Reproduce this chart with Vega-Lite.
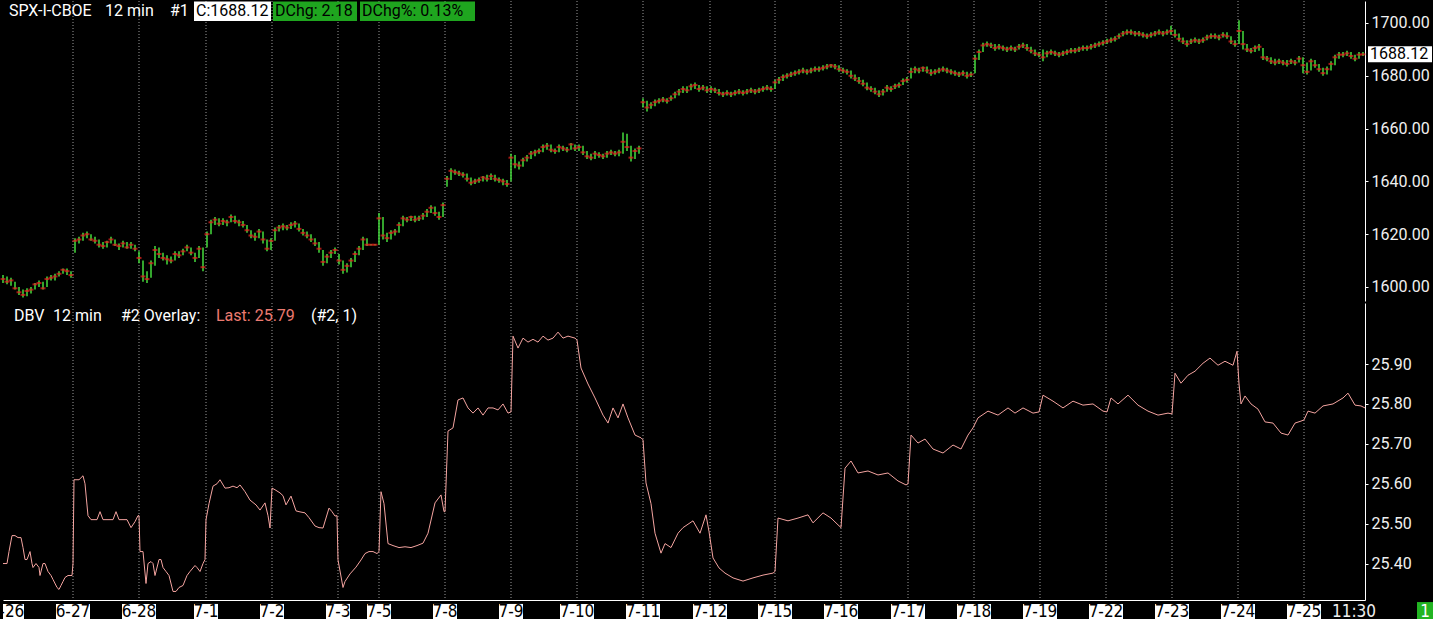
{
"$schema": "https://vega.github.io/schema/vega-lite/v6.json",
"background": "#000000",
"padding": 0,
"spacing": 0,
"config": {"view": {"stroke": null}, "text": {"font": "Roboto"}, "axis": {"labelFont": "Roboto"}},
"datasets": {
"days": [
{"t":2,"label":"6-26"},{"t":35,"label":"6-27"},{"t":68,"label":"6-28"},{"t":101.5,"label":"7-1"},{"t":134.5,"label":"7-2"},{"t":167.5,"label":"7-3"},{"t":188,"label":"7-5"},{"t":221,"label":"7-8"},{"t":254,"label":"7-9"},{"t":287,"label":"7-10"},{"t":320,"label":"7-11"},{"t":353.5,"label":"7-12"},{"t":386,"label":"7-15"},{"t":419,"label":"7-16"},{"t":452.5,"label":"7-17"},{"t":485.5,"label":"7-18"},{"t":518.5,"label":"7-19"},{"t":551.5,"label":"7-22"},{"t":584.5,"label":"7-23"},{"t":617.5,"label":"7-24"},{"t":650.5,"label":"7-25"},{"t":675.5,"label":"11:30"}
],
"spx": [
{"t":0,"h":1604.5,"l":1601.5,"c":1603},{"t":2,"h":1604,"l":1601,"c":1602},{"t":4,"h":1603.5,"l":1600.5,"c":1602.5},{"t":6,"h":1602,"l":1599,"c":1599.5},{"t":8,"h":1600,"l":1597,"c":1598},{"t":10,"h":1599,"l":1596,"c":1597},{"t":12,"h":1599.5,"l":1596.5,"c":1598.5},{"t":14,"h":1600,"l":1597.5,"c":1599},{"t":16,"h":1601.5,"l":1599,"c":1601},{"t":18,"h":1602.5,"l":1600,"c":1601.5},{"t":20,"h":1602,"l":1599,"c":1599.5},{"t":22,"h":1604,"l":1600,"c":1603},{"t":24,"h":1604.5,"l":1602.5,"c":1603.5},{"t":26,"h":1605,"l":1602.5,"c":1604},{"t":28,"h":1606,"l":1604,"c":1605},{"t":30,"h":1607,"l":1605,"c":1606.5},{"t":32,"h":1607,"l":1604.5,"c":1606},{"t":34,"h":1606,"l":1603.5,"c":1604.5},
{"t":36,"h":1618.5,"l":1613,"c":1617.5},{"t":38,"h":1619,"l":1616.5,"c":1618},{"t":40,"h":1620.5,"l":1617.5,"c":1619.5},{"t":42,"h":1621,"l":1618.5,"c":1620},{"t":44,"h":1620,"l":1617.5,"c":1618},{"t":46,"h":1619,"l":1616.5,"c":1617.5},{"t":48,"h":1618,"l":1615,"c":1616},{"t":50,"h":1617,"l":1614.5,"c":1615.5},{"t":52,"h":1617.5,"l":1615,"c":1617},{"t":54,"h":1619,"l":1616.5,"c":1618},{"t":56,"h":1618,"l":1615.5,"c":1616},{"t":58,"h":1616.5,"l":1614,"c":1615.5},{"t":60,"h":1617.5,"l":1615,"c":1616.5},{"t":62,"h":1617,"l":1614.5,"c":1615},{"t":64,"h":1617,"l":1614.5,"c":1616},{"t":66,"h":1616,"l":1613.5,"c":1614.5},
{"t":68,"h":1613.5,"l":1609,"c":1611},{"t":70,"h":1610,"l":1602,"c":1604},{"t":72,"h":1606,"l":1601.5,"c":1603},{"t":74,"h":1610,"l":1603.5,"c":1609},{"t":76,"h":1615.5,"l":1608,"c":1614},{"t":78,"h":1615,"l":1611,"c":1612.5},{"t":80,"h":1613,"l":1610,"c":1611},{"t":82,"h":1612,"l":1608.5,"c":1610.5},{"t":84,"h":1611.5,"l":1609,"c":1610},{"t":86,"h":1613.5,"l":1610,"c":1612.5},{"t":88,"h":1613.5,"l":1611,"c":1612},{"t":90,"h":1614.5,"l":1612,"c":1613.5},{"t":92,"h":1616,"l":1613.5,"c":1615},{"t":94,"h":1615,"l":1612,"c":1613},{"t":96,"h":1613,"l":1609.5,"c":1611},{"t":98,"h":1615.5,"l":1611,"c":1614.5},{"t":100,"h":1615,"l":1606,"c":1607.5},
{"t":102,"h":1621,"l":1615,"c":1620},{"t":104,"h":1625.5,"l":1620,"c":1624.5},{"t":106,"h":1626.5,"l":1623.5,"c":1625.5},{"t":108,"h":1626,"l":1623,"c":1624},{"t":110,"h":1626,"l":1623.5,"c":1625},{"t":112,"h":1625.5,"l":1623,"c":1624.5},{"t":114,"h":1627.5,"l":1624.5,"c":1626.5},{"t":116,"h":1627,"l":1624,"c":1625},{"t":118,"h":1625.5,"l":1623,"c":1624.5},{"t":120,"h":1625,"l":1622.5,"c":1623.5},{"t":122,"h":1623.5,"l":1620.5,"c":1621.5},{"t":124,"h":1621.5,"l":1618.5,"c":1619.5},{"t":126,"h":1620.5,"l":1617.5,"c":1619},{"t":128,"h":1622,"l":1618.5,"c":1621},{"t":130,"h":1621,"l":1616.5,"c":1618},{"t":132,"h":1618,"l":1613.5,"c":1614.5},{"t":134,"h":1618.5,"l":1614,"c":1617.5},
{"t":136,"h":1622.5,"l":1617.5,"c":1621.5},{"t":138,"h":1623.5,"l":1621,"c":1622.5},{"t":140,"h":1624,"l":1621.5,"c":1623},{"t":142,"h":1623.5,"l":1621.5,"c":1622.5},{"t":144,"h":1624.5,"l":1622,"c":1623.5},{"t":146,"h":1625,"l":1622.5,"c":1624},{"t":148,"h":1624,"l":1621,"c":1622},{"t":150,"h":1622,"l":1619.5,"c":1620.5},{"t":152,"h":1621,"l":1618.5,"c":1619.5},{"t":154,"h":1620,"l":1617,"c":1618},{"t":156,"h":1618.5,"l":1615.5,"c":1616.5},{"t":158,"h":1617,"l":1613,"c":1614.5},{"t":160,"h":1614,"l":1608,"c":1609.5},{"t":162,"h":1612.5,"l":1609,"c":1611.5},{"t":164,"h":1614,"l":1611,"c":1613},{"t":166,"h":1615,"l":1612.5,"c":1614},
{"t":168,"h":1612.5,"l":1608.5,"c":1610},{"t":170,"h":1610,"l":1605,"c":1606.5},{"t":172,"h":1609,"l":1605.5,"c":1608},{"t":174,"h":1611,"l":1607.5,"c":1610},{"t":176,"h":1613.5,"l":1609.5,"c":1612.5},{"t":178,"h":1615.5,"l":1612,"c":1614.5},{"t":180,"h":1619,"l":1614,"c":1618},{"t":182,"h":1618.5,"l":1615.5,"c":1616},{"t":184,"h":1616.3,"l":1615.7,"c":1616},{"t":186,"h":1616.3,"l":1615.7,"c":1616},
{"t":188,"h":1628,"l":1616,"c":1626},{"t":190,"h":1626.5,"l":1618,"c":1619.5},{"t":192,"h":1620.5,"l":1617,"c":1618.5},{"t":194,"h":1621.5,"l":1618,"c":1620.5},{"t":196,"h":1622,"l":1619.5,"c":1621},{"t":198,"h":1624.5,"l":1620.5,"c":1623.5},{"t":200,"h":1627,"l":1623,"c":1626},{"t":202,"h":1626.5,"l":1624.5,"c":1625.5},{"t":204,"h":1627,"l":1625,"c":1626.5},{"t":206,"h":1627,"l":1624.5,"c":1625.5},{"t":208,"h":1627,"l":1625,"c":1626},{"t":210,"h":1628,"l":1625.5,"c":1627},{"t":212,"h":1629.5,"l":1626.5,"c":1628.5},{"t":214,"h":1631,"l":1628,"c":1630},{"t":216,"h":1630.5,"l":1627,"c":1628},{"t":218,"h":1628.5,"l":1625.5,"c":1626.5},{"t":220,"h":1632,"l":1626.5,"c":1631},
{"t":222,"h":1642,"l":1638,"c":1641},{"t":224,"h":1645,"l":1640.5,"c":1644},{"t":226,"h":1644.5,"l":1642.5,"c":1643.5},{"t":228,"h":1644,"l":1642,"c":1643},{"t":230,"h":1643.5,"l":1641.5,"c":1642.5},{"t":232,"h":1643,"l":1640,"c":1641},{"t":234,"h":1641.5,"l":1638.5,"c":1639.5},{"t":236,"h":1641,"l":1639,"c":1640},{"t":238,"h":1641.5,"l":1639.5,"c":1640.5},{"t":240,"h":1642,"l":1640,"c":1641.5},{"t":242,"h":1642.5,"l":1640,"c":1641},{"t":244,"h":1643,"l":1640.5,"c":1642},{"t":246,"h":1642.5,"l":1640,"c":1641},{"t":248,"h":1641.5,"l":1639.5,"c":1640.5},{"t":250,"h":1641,"l":1638.5,"c":1640},{"t":252,"h":1640.5,"l":1638,"c":1639},
{"t":254,"h":1650.5,"l":1640,"c":1649},{"t":256,"h":1650,"l":1645,"c":1646.5},{"t":258,"h":1647.5,"l":1644.5,"c":1646},{"t":260,"h":1649,"l":1645.5,"c":1648},{"t":262,"h":1650,"l":1647.5,"c":1649},{"t":264,"h":1651.5,"l":1648.5,"c":1650.5},{"t":266,"h":1652,"l":1649.5,"c":1651},{"t":268,"h":1652.5,"l":1650.5,"c":1651.5},{"t":270,"h":1654,"l":1651,"c":1653},{"t":272,"h":1654.5,"l":1652,"c":1653.5},{"t":274,"h":1654,"l":1651,"c":1652},{"t":276,"h":1652.5,"l":1650.5,"c":1651.5},{"t":278,"h":1654,"l":1651,"c":1653},{"t":280,"h":1653.5,"l":1651.5,"c":1652.5},{"t":282,"h":1653,"l":1651,"c":1652},{"t":284,"h":1654.5,"l":1652,"c":1654},{"t":286,"h":1654,"l":1651.5,"c":1652.5},
{"t":288,"h":1654,"l":1651.5,"c":1653},{"t":290,"h":1653.5,"l":1650,"c":1651},{"t":292,"h":1651.5,"l":1648.5,"c":1649.5},{"t":294,"h":1650.5,"l":1648,"c":1649},{"t":296,"h":1651.5,"l":1648.5,"c":1650.5},{"t":298,"h":1651,"l":1649,"c":1650},{"t":300,"h":1650.5,"l":1648.5,"c":1649.5},{"t":302,"h":1651.5,"l":1649,"c":1650.5},{"t":304,"h":1652,"l":1650,"c":1651},{"t":306,"h":1651.5,"l":1649.5,"c":1650.5},{"t":308,"h":1652,"l":1649.5,"c":1651},{"t":310,"h":1658.5,"l":1650.5,"c":1655},{"t":312,"h":1658,"l":1651.5,"c":1653},{"t":314,"h":1653.5,"l":1647.5,"c":1649},{"t":316,"h":1652.5,"l":1648.5,"c":1651.5},{"t":318,"h":1653.5,"l":1650.5,"c":1652.5},
{"t":320,"h":1671.5,"l":1668,"c":1670},{"t":322,"h":1670.5,"l":1666.5,"c":1668},{"t":324,"h":1670,"l":1667.5,"c":1669},{"t":326,"h":1671,"l":1668.5,"c":1670},{"t":328,"h":1671.5,"l":1669.5,"c":1670.5},{"t":330,"h":1672,"l":1670,"c":1671},{"t":332,"h":1671.5,"l":1669.5,"c":1670.5},{"t":334,"h":1672.5,"l":1670.5,"c":1671.5},{"t":336,"h":1674,"l":1671.5,"c":1673},{"t":338,"h":1675,"l":1672.5,"c":1674},{"t":340,"h":1676,"l":1673.5,"c":1675},{"t":342,"h":1676,"l":1673.5,"c":1674.5},{"t":344,"h":1677,"l":1674.5,"c":1676},{"t":346,"h":1677.5,"l":1675,"c":1676.5},{"t":348,"h":1676.5,"l":1674,"c":1675},{"t":350,"h":1676.5,"l":1674.5,"c":1675.5},{"t":352,"h":1676,"l":1673.5,"c":1674.5},
{"t":354,"h":1676,"l":1673.5,"c":1675},{"t":356,"h":1675.5,"l":1673.5,"c":1674.5},{"t":358,"h":1675,"l":1672.5,"c":1673.5},{"t":360,"h":1674,"l":1672,"c":1673},{"t":362,"h":1674.5,"l":1672.5,"c":1673.5},{"t":364,"h":1674,"l":1672,"c":1673},{"t":366,"h":1674.5,"l":1672.5,"c":1673.5},{"t":368,"h":1675,"l":1673,"c":1674},{"t":370,"h":1674.5,"l":1672.5,"c":1673.5},{"t":372,"h":1675,"l":1673,"c":1674},{"t":374,"h":1675.5,"l":1673.5,"c":1674.5},{"t":376,"h":1675,"l":1673,"c":1674},{"t":378,"h":1675.5,"l":1673.5,"c":1674.5},{"t":380,"h":1676,"l":1674,"c":1675},{"t":382,"h":1676.5,"l":1674.5,"c":1675.5},{"t":384,"h":1676,"l":1674,"c":1675},
{"t":386,"h":1678.5,"l":1675,"c":1677.5},{"t":388,"h":1679.5,"l":1677,"c":1678.5},{"t":390,"h":1680.5,"l":1678,"c":1679.5},{"t":392,"h":1681,"l":1679,"c":1680},{"t":394,"h":1681.5,"l":1679.5,"c":1680.5},{"t":396,"h":1682,"l":1680,"c":1681},{"t":398,"h":1682.5,"l":1680.5,"c":1681.5},{"t":400,"h":1683,"l":1681,"c":1682},{"t":402,"h":1682.5,"l":1680.5,"c":1681.5},{"t":404,"h":1683,"l":1681,"c":1682},{"t":406,"h":1683.5,"l":1681.5,"c":1682.5},{"t":408,"h":1683.5,"l":1681.5,"c":1682.5},{"t":410,"h":1684,"l":1682,"c":1683},{"t":412,"h":1684.5,"l":1682.5,"c":1683.5},{"t":414,"h":1684.5,"l":1683,"c":1684},{"t":416,"h":1684.5,"l":1682.5,"c":1683.5},{"t":418,"h":1684,"l":1681.5,"c":1682.5},
{"t":420,"h":1683,"l":1681,"c":1682},{"t":422,"h":1682.5,"l":1680.5,"c":1681.5},{"t":424,"h":1682,"l":1679,"c":1680},{"t":426,"h":1680.5,"l":1678,"c":1679},{"t":428,"h":1679.5,"l":1677,"c":1678},{"t":430,"h":1678.5,"l":1676,"c":1677},{"t":432,"h":1677.5,"l":1674.5,"c":1675.5},{"t":434,"h":1676,"l":1674,"c":1675},{"t":436,"h":1675.5,"l":1673,"c":1674},{"t":438,"h":1674.5,"l":1672,"c":1673},{"t":440,"h":1675,"l":1672.5,"c":1674},{"t":442,"h":1676.5,"l":1674,"c":1675.5},{"t":444,"h":1676,"l":1674,"c":1675},{"t":446,"h":1677,"l":1675,"c":1676},{"t":448,"h":1677.5,"l":1675.5,"c":1676.5},{"t":450,"h":1679,"l":1676.5,"c":1678},{"t":452,"h":1679.5,"l":1677.5,"c":1678.5},
{"t":454,"h":1683,"l":1679,"c":1681.5},{"t":456,"h":1683.5,"l":1681,"c":1682.5},{"t":458,"h":1683,"l":1681,"c":1682},{"t":460,"h":1683.5,"l":1681.5,"c":1683},{"t":462,"h":1683.5,"l":1681,"c":1682},{"t":464,"h":1682.5,"l":1680,"c":1681},{"t":466,"h":1682.5,"l":1680.5,"c":1681.5},{"t":468,"h":1683,"l":1681,"c":1682},{"t":470,"h":1683.5,"l":1681.5,"c":1682.5},{"t":472,"h":1683,"l":1681,"c":1682},{"t":474,"h":1682.5,"l":1680.5,"c":1681.5},{"t":476,"h":1682,"l":1680,"c":1681},{"t":478,"h":1681.5,"l":1679.5,"c":1680.5},{"t":480,"h":1682,"l":1680,"c":1681},{"t":482,"h":1681.5,"l":1679,"c":1680},{"t":484,"h":1681.5,"l":1679.5,"c":1680.5},
{"t":486,"h":1688,"l":1681,"c":1686.5},{"t":488,"h":1690,"l":1686,"c":1689},{"t":490,"h":1692.5,"l":1689,"c":1691.5},{"t":492,"h":1693,"l":1691,"c":1692},{"t":494,"h":1692.5,"l":1690.5,"c":1691.5},{"t":496,"h":1692,"l":1689.5,"c":1690.5},{"t":498,"h":1692,"l":1690,"c":1691},{"t":500,"h":1691.5,"l":1689.5,"c":1690.5},{"t":502,"h":1691,"l":1689,"c":1690},{"t":504,"h":1691.5,"l":1689.5,"c":1690.5},{"t":506,"h":1691,"l":1689,"c":1690},{"t":508,"h":1692,"l":1690,"c":1691},{"t":510,"h":1692.5,"l":1690.5,"c":1691.5},{"t":512,"h":1692,"l":1689.5,"c":1690.5},{"t":514,"h":1691,"l":1688.5,"c":1689.5},{"t":516,"h":1690,"l":1687.5,"c":1688.5},
{"t":518,"h":1689,"l":1687,"c":1688},{"t":520,"h":1690,"l":1685.5,"c":1687},{"t":522,"h":1689.5,"l":1687,"c":1688.5},{"t":524,"h":1690,"l":1688,"c":1689},{"t":526,"h":1689.5,"l":1687.5,"c":1688.5},{"t":528,"h":1689,"l":1687,"c":1688},{"t":530,"h":1689.5,"l":1687.5,"c":1688.5},{"t":532,"h":1690,"l":1688,"c":1689},{"t":534,"h":1690.5,"l":1688.5,"c":1689.5},{"t":536,"h":1690.5,"l":1688.5,"c":1689.5},{"t":538,"h":1691,"l":1689,"c":1690},{"t":540,"h":1691.5,"l":1689.5,"c":1690.5},{"t":542,"h":1691.5,"l":1689.5,"c":1690.5},{"t":544,"h":1692,"l":1690,"c":1691},{"t":546,"h":1692.5,"l":1690.5,"c":1691.5},{"t":548,"h":1693,"l":1691,"c":1692},{"t":550,"h":1693.5,"l":1691.5,"c":1692.5},
{"t":552,"h":1694,"l":1692,"c":1693},{"t":554,"h":1694.5,"l":1692.5,"c":1693.5},{"t":556,"h":1695,"l":1693,"c":1694},{"t":558,"h":1696,"l":1694,"c":1695},{"t":560,"h":1697,"l":1695,"c":1696},{"t":562,"h":1697.5,"l":1695.5,"c":1696.5},{"t":564,"h":1697.5,"l":1695.5,"c":1696.5},{"t":566,"h":1697,"l":1695,"c":1696},{"t":568,"h":1697,"l":1695,"c":1696},{"t":570,"h":1696.5,"l":1694.5,"c":1695.5},{"t":572,"h":1696,"l":1694,"c":1695},{"t":574,"h":1696.5,"l":1694.5,"c":1695.5},{"t":576,"h":1697,"l":1695,"c":1696},{"t":578,"h":1697.5,"l":1695.5,"c":1696.5},{"t":580,"h":1697,"l":1695,"c":1696},{"t":582,"h":1697.5,"l":1695.5,"c":1696.5},
{"t":584,"h":1699,"l":1695.5,"c":1697},{"t":586,"h":1697.5,"l":1694.5,"c":1695.5},{"t":588,"h":1696,"l":1693,"c":1694},{"t":590,"h":1694.5,"l":1692,"c":1693},{"t":592,"h":1693.5,"l":1691,"c":1692},{"t":594,"h":1694,"l":1692,"c":1693},{"t":596,"h":1694.5,"l":1692.5,"c":1693.5},{"t":598,"h":1694,"l":1692,"c":1693},{"t":600,"h":1694.5,"l":1692.5,"c":1693.5},{"t":602,"h":1695.5,"l":1693.5,"c":1694.5},{"t":604,"h":1696,"l":1694,"c":1695},{"t":606,"h":1696,"l":1694,"c":1695},{"t":608,"h":1695.5,"l":1693.5,"c":1694.5},{"t":610,"h":1696.5,"l":1694.5,"c":1695.5},{"t":612,"h":1696.5,"l":1694,"c":1695},{"t":614,"h":1695,"l":1692,"c":1693},{"t":616,"h":1693.5,"l":1691,"c":1692},
{"t":618,"h":1701,"l":1692,"c":1697},{"t":620,"h":1697,"l":1690,"c":1692},{"t":622,"h":1692,"l":1689,"c":1690},{"t":624,"h":1690.5,"l":1688.5,"c":1689.5},{"t":626,"h":1691.5,"l":1689,"c":1690.5},{"t":628,"h":1692,"l":1689.5,"c":1691},{"t":630,"h":1690.5,"l":1686,"c":1687},{"t":632,"h":1687.5,"l":1685.5,"c":1686.5},{"t":634,"h":1687,"l":1684.5,"c":1685.5},{"t":636,"h":1686.5,"l":1684,"c":1685},{"t":638,"h":1686.5,"l":1684.5,"c":1685.5},{"t":640,"h":1686,"l":1684,"c":1685},{"t":642,"h":1686,"l":1683.5,"c":1684.5},{"t":644,"h":1686.5,"l":1684.5,"c":1685.5},{"t":646,"h":1686,"l":1684,"c":1685},{"t":648,"h":1687.5,"l":1685,"c":1686.5},
{"t":650,"h":1687,"l":1681,"c":1684},{"t":652,"h":1685,"l":1680.5,"c":1681.5},{"t":654,"h":1686.5,"l":1682,"c":1685.5},{"t":656,"h":1686,"l":1683,"c":1684},{"t":658,"h":1684.5,"l":1681.5,"c":1682.5},{"t":660,"h":1683,"l":1680,"c":1681},{"t":662,"h":1683.5,"l":1680.5,"c":1682.5},{"t":664,"h":1685.5,"l":1682,"c":1684.5},{"t":666,"h":1688,"l":1684,"c":1687},{"t":668,"h":1689,"l":1686.5,"c":1688},{"t":670,"h":1689,"l":1687,"c":1688},{"t":672,"h":1689.5,"l":1687.5,"c":1688.5},{"t":674,"h":1689,"l":1686.5,"c":1687.5},{"t":676,"h":1688,"l":1685.5,"c":1686.5},{"t":678,"h":1689,"l":1686.5,"c":1688},{"t":680,"h":1689,"l":1687.5,"c":1688.12}
],
"dbv": [
{"t":0,"v":25.4},{"t":2,"v":25.4},{"t":3,"v":25.43},{"t":4.5,"v":25.47},{"t":6,"v":25.47},{"t":7.5,"v":25.465},{"t":9,"v":25.465},{"t":10,"v":25.44},{"t":11,"v":25.41},{"t":12,"v":25.41},{"t":13.5,"v":25.43},{"t":14.5,"v":25.4},{"t":15,"v":25.39},{"t":16.5,"v":25.4},{"t":18,"v":25.39},{"t":18.5,"v":25.37},{"t":20,"v":25.4},{"t":21,"v":25.4},{"t":22.5,"v":25.38},{"t":24,"v":25.37},{"t":25,"v":25.36},{"t":27,"v":25.34},{"t":28,"v":25.335},{"t":29,"v":25.345},{"t":30,"v":25.355},{"t":31,"v":25.365},{"t":32.5,"v":25.37},{"t":34.5,"v":25.37},{"t":35,"v":25.4},
{"t":35.5,"v":25.61},{"t":38,"v":25.61},{"t":40,"v":25.62},{"t":41,"v":25.6},{"t":42.5,"v":25.52},{"t":44,"v":25.51},{"t":46,"v":25.51},{"t":47,"v":25.51},{"t":48.5,"v":25.53},{"t":50,"v":25.51},{"t":53,"v":25.51},{"t":55,"v":25.51},{"t":56.5,"v":25.53},{"t":58,"v":25.51},{"t":61,"v":25.51},{"t":62,"v":25.51},{"t":64,"v":25.49},{"t":66,"v":25.505},{"t":67.5,"v":25.52},{"t":68,"v":25.52},
{"t":68.5,"v":25.43},{"t":70,"v":25.43},{"t":71.5,"v":25.35},{"t":72.5,"v":25.4},{"t":74,"v":25.405},{"t":75,"v":25.4},{"t":76,"v":25.37},{"t":78,"v":25.41},{"t":79,"v":25.41},{"t":80,"v":25.39},{"t":81.5,"v":25.38},{"t":83,"v":25.37},{"t":85,"v":25.33},{"t":86.5,"v":25.33},{"t":88,"v":25.34},{"t":90,"v":25.345},{"t":92,"v":25.37},{"t":93.5,"v":25.38},{"t":96,"v":25.395},{"t":97,"v":25.39},{"t":98.5,"v":25.38},{"t":100,"v":25.4},{"t":101,"v":25.41},
{"t":101.5,"v":25.51},{"t":103,"v":25.55},{"t":105,"v":25.594},{"t":107,"v":25.6},{"t":108.5,"v":25.61},{"t":111,"v":25.589},{"t":113,"v":25.59},{"t":115,"v":25.594},{"t":117,"v":25.59},{"t":118.5,"v":25.597},{"t":121,"v":25.58},{"t":123.5,"v":25.559},{"t":126.5,"v":25.547},{"t":128.5,"v":25.534},{"t":131,"v":25.552},{"t":132.5,"v":25.52},{"t":133.5,"v":25.489},
{"t":134.5,"v":25.589},{"t":136,"v":25.585},{"t":138.5,"v":25.577},{"t":140,"v":25.57},{"t":141.5,"v":25.547},{"t":144,"v":25.569},{"t":146.5,"v":25.532},{"t":148,"v":25.53},{"t":151,"v":25.527},{"t":153,"v":25.515},{"t":156,"v":25.494},{"t":158,"v":25.49},{"t":160,"v":25.489},{"t":163,"v":25.539},{"t":164.5,"v":25.53},{"t":166,"v":25.519},{"t":167,"v":25.52},
{"t":167.5,"v":25.409},{"t":170,"v":25.34},{"t":171,"v":25.355},{"t":173.5,"v":25.374},{"t":176.5,"v":25.391},{"t":179,"v":25.409},{"t":181,"v":25.425},{"t":183,"v":25.43},{"t":185,"v":25.43},{"t":187,"v":25.425},{"t":188,"v":25.43},
{"t":189,"v":25.58},{"t":190.5,"v":25.55},{"t":192.5,"v":25.45},{"t":195,"v":25.445},{"t":198,"v":25.44},{"t":201,"v":25.442},{"t":204,"v":25.44},{"t":207,"v":25.445},{"t":210,"v":25.451},{"t":212.5,"v":25.476},{"t":216,"v":25.552},{"t":219,"v":25.572},{"t":220.5,"v":25.53},{"t":221,"v":25.53},
{"t":222.5,"v":25.732},{"t":225,"v":25.74},{"t":227.5,"v":25.81},{"t":230,"v":25.815},{"t":232.5,"v":25.79},{"t":235,"v":25.777},{"t":237.5,"v":25.79},{"t":240,"v":25.772},{"t":242.5,"v":25.79},{"t":245,"v":25.79},{"t":247.5,"v":25.785},{"t":250,"v":25.8},{"t":252.5,"v":25.777},{"t":254,"v":25.78},
{"t":255,"v":25.97},{"t":257.5,"v":25.94},{"t":260,"v":25.965},{"t":262.5,"v":25.955},{"t":265,"v":25.962},{"t":267.5,"v":25.955},{"t":270,"v":25.97},{"t":272.5,"v":25.96},{"t":275,"v":25.965},{"t":277.5,"v":25.98},{"t":280,"v":25.965},{"t":282.5,"v":25.97},{"t":286,"v":25.965},{"t":287,"v":25.96},
{"t":289,"v":25.89},{"t":292.5,"v":25.85},{"t":296,"v":25.815},{"t":300,"v":25.772},{"t":302.5,"v":25.752},{"t":305,"v":25.79},{"t":307.5,"v":25.765},{"t":310,"v":25.8},{"t":312.5,"v":25.765},{"t":316,"v":25.722},{"t":319,"v":25.715},{"t":320,"v":25.71},
{"t":321.5,"v":25.602},{"t":324,"v":25.55},{"t":326,"v":25.476},{"t":329,"v":25.426},{"t":331,"v":25.45},{"t":334,"v":25.44},{"t":337.5,"v":25.476},{"t":340,"v":25.49},{"t":345,"v":25.507},{"t":348.5,"v":25.476},{"t":351.5,"v":25.522},{"t":353,"v":25.48},
{"t":355,"v":25.414},{"t":358,"v":25.389},{"t":361,"v":25.376},{"t":365,"v":25.364},{"t":370,"v":25.356},{"t":375,"v":25.364},{"t":380,"v":25.371},{"t":385,"v":25.376},{"t":386,"v":25.38},
{"t":387.5,"v":25.514},{"t":392.5,"v":25.507},{"t":397.5,"v":25.514},{"t":402.5,"v":25.522},{"t":405,"v":25.502},{"t":410,"v":25.527},{"t":414,"v":25.514},{"t":417.5,"v":25.497},{"t":419,"v":25.49},
{"t":421,"v":25.639},{"t":424,"v":25.657},{"t":427.5,"v":25.627},{"t":432.5,"v":25.632},{"t":437.5,"v":25.622},{"t":442.5,"v":25.627},{"t":447.5,"v":25.607},{"t":451.5,"v":25.597},{"t":452.5,"v":25.6},
{"t":454,"v":25.722},{"t":457.5,"v":25.702},{"t":461,"v":25.712},{"t":465,"v":25.687},{"t":470,"v":25.677},{"t":475,"v":25.697},{"t":479,"v":25.687},{"t":482.5,"v":25.722},{"t":485,"v":25.74},
{"t":487.5,"v":25.765},{"t":492.5,"v":25.782},{"t":497.5,"v":25.772},{"t":502.5,"v":25.79},{"t":506,"v":25.777},{"t":510,"v":25.79},{"t":515,"v":25.777},{"t":518,"v":25.78},
{"t":520,"v":25.822},{"t":525,"v":25.807},{"t":530,"v":25.79},{"t":535,"v":25.807},{"t":540,"v":25.797},{"t":545,"v":25.8},{"t":550,"v":25.782},{"t":552,"v":25.78},
{"t":554,"v":25.815},{"t":557.5,"v":25.8},{"t":562.5,"v":25.822},{"t":567.5,"v":25.797},{"t":572.5,"v":25.782},{"t":577.5,"v":25.772},{"t":582.5,"v":25.777},{"t":584.5,"v":25.775},
{"t":586,"v":25.877},{"t":589,"v":25.852},{"t":592.5,"v":25.872},{"t":596,"v":25.882},{"t":600,"v":25.902},{"t":603.5,"v":25.915},{"t":607.5,"v":25.897},{"t":611,"v":25.907},{"t":615,"v":25.897},{"t":617,"v":25.932},
{"t":618,"v":25.85},{"t":619,"v":25.8},{"t":621,"v":25.82},{"t":624,"v":25.8},{"t":627.5,"v":25.787},{"t":631,"v":25.755},{"t":635,"v":25.752},{"t":639,"v":25.727},{"t":642.5,"v":25.722},{"t":646,"v":25.752},{"t":649,"v":25.757},{"t":650.5,"v":25.76},
{"t":652.5,"v":25.782},{"t":656,"v":25.777},{"t":660,"v":25.795},{"t":665,"v":25.8},{"t":670,"v":25.815},{"t":672.5,"v":25.827},{"t":676,"v":25.797},{"t":679,"v":25.795},{"t":681,"v":25.79}
]
},
"vconcat": [
{
"width": 1362, "height": 300,
"layer": [
{"data": {"name": "days"}, "transform": [{"filter": "datum.t > 5 && datum.t < 670"}],
 "mark": {"type": "rule", "color": "#9a9a9a", "strokeDash": [1, 2], "strokeWidth": 1},
 "encoding": {"x": {"field": "t", "type": "quantitative", "scale": {"domain": [0, 681], "nice": false, "zero": false}, "axis": null}}},
{"data": {"name": "spx"},
 "mark": {"type": "rule", "color": "#44dc3c", "strokeWidth": 1.5},
 "encoding": {
  "x": {"field": "t", "type": "quantitative", "axis": null},
  "y": {"field": "l", "type": "quantitative", "scale": {"domain": [1594.69, 1708.33], "nice": false, "zero": false},
        "axis": {"orient": "right", "values": [1600, 1620, 1640, 1660, 1680, 1700], "format": ".2f", "domainColor": "#ffffff", "tickColor": "#ffffff", "tickSize": 3, "labelColor": "#f0f0f0", "labelFontSize": 16, "labelPadding": 3, "grid": false, "title": null}},
  "y2": {"field": "h"}}},
{"data": {"name": "spx"},
 "mark": {"type": "tick", "orient": "horizontal", "color": "#e8221e", "size": 5, "thickness": 2},
 "encoding": {"x": {"field": "t", "type": "quantitative", "axis": null}, "y": {"field": "c", "type": "quantitative"}}},
{"data": {"values": [{}]}, "mark": {"type": "rect", "color": "#ffffff"},
 "encoding": {"x": {"datum": 95.5, "type": "quantitative"}, "x2": {"datum": 134}, "y": {"datum": 1708.1, "type": "quantitative"}, "y2": {"datum": 1700.75}}},
{"data": {"values": [{}]}, "mark": {"type": "rect", "color": "#1fa51f"},
 "encoding": {"x": {"datum": 135, "type": "quantitative"}, "x2": {"datum": 177}, "y": {"datum": 1708.1, "type": "quantitative"}, "y2": {"datum": 1700.75}}},
{"data": {"values": [{}]}, "mark": {"type": "rect", "color": "#1fa51f"},
 "encoding": {"x": {"datum": 178.5, "type": "quantitative"}, "x2": {"datum": 236}, "y": {"datum": 1708.1, "type": "quantitative"}, "y2": {"datum": 1700.75}}},
{"data": {"values": [{}]}, "mark": {"type": "text", "text": "SPX-I-CBOE", "align": "left", "baseline": "middle", "color": "#ffffff", "fontSize": 16},
 "encoding": {"x": {"datum": 3, "type": "quantitative"}, "y": {"datum": 1704.4, "type": "quantitative"}}},
{"data": {"values": [{}]}, "mark": {"type": "text", "text": "12 min", "align": "left", "baseline": "middle", "color": "#ffffff", "fontSize": 16},
 "encoding": {"x": {"datum": 51, "type": "quantitative"}, "y": {"datum": 1704.4, "type": "quantitative"}}},
{"data": {"values": [{}]}, "mark": {"type": "text", "text": "#1", "align": "left", "baseline": "middle", "color": "#ffffff", "fontSize": 16},
 "encoding": {"x": {"datum": 83.5, "type": "quantitative"}, "y": {"datum": 1704.4, "type": "quantitative"}}},
{"data": {"values": [{}]}, "mark": {"type": "text", "text": "C:1688.12", "align": "left", "baseline": "middle", "color": "#000000", "fontSize": 16},
 "encoding": {"x": {"datum": 96.5, "type": "quantitative"}, "y": {"datum": 1704.4, "type": "quantitative"}}},
{"data": {"values": [{}]}, "mark": {"type": "text", "text": "DChg: 2.18", "align": "left", "baseline": "middle", "color": "#000000", "fontSize": 16},
 "encoding": {"x": {"datum": 136, "type": "quantitative"}, "y": {"datum": 1704.4, "type": "quantitative"}}},
{"data": {"values": [{}]}, "mark": {"type": "text", "text": "DChg%: 0.13%", "align": "left", "baseline": "middle", "color": "#000000", "fontSize": 16},
 "encoding": {"x": {"datum": 179.5, "type": "quantitative"}, "y": {"datum": 1704.4, "type": "quantitative"}}},
{"data": {"values": [{}]}, "mark": {"type": "rect", "color": "#ffffff", "xOffset": 3, "x2Offset": 67, "yOffset": -8, "y2Offset": 8},
 "encoding": {"x": {"datum": 681, "type": "quantitative"}, "x2": {"datum": 681}, "y": {"datum": 1688.12, "type": "quantitative"}, "y2": {"datum": 1688.12}}},
{"data": {"values": [{}]}, "mark": {"type": "text", "text": "1688.12", "align": "left", "baseline": "middle", "color": "#000000", "fontSize": 16, "dx": 5},
 "encoding": {"x": {"datum": 681, "type": "quantitative"}, "y": {"datum": 1688.12, "type": "quantitative"}}}
]
},
{
"width": 1362, "height": 297,
"layer": [
{"data": {"name": "days"}, "transform": [{"filter": "datum.t > 5 && datum.t < 670"}],
 "mark": {"type": "rule", "color": "#9a9a9a", "strokeDash": [1, 2], "strokeWidth": 1},
 "encoding": {"x": {"field": "t", "type": "quantitative", "scale": {"domain": [0, 681], "nice": false, "zero": false},
   "axis": {"orient": "bottom", "domain": true, "domainColor": "#ffffff", "ticks": false, "labels": false, "grid": false, "title": null}}}},
{"data": {"name": "dbv"},
 "mark": {"type": "line", "color": "#f4a4a0", "strokeWidth": 1},
 "encoding": {
  "x": {"field": "t", "type": "quantitative"},
  "y": {"field": "v", "type": "quantitative", "scale": {"domain": [25.3086, 26.053], "nice": false, "zero": false},
        "axis": {"orient": "right", "values": [25.4, 25.5, 25.6, 25.7, 25.8, 25.9], "format": ".2f", "domainColor": "#ffffff", "tickColor": "#ffffff", "tickSize": 3, "labelColor": "#f0f0f0", "labelFontSize": 16, "labelPadding": 3, "grid": false, "title": null}}}},
{"data": {"values": [{}]}, "mark": {"type": "text", "text": "DBV", "align": "left", "baseline": "middle", "color": "#ffffff", "fontSize": 16},
 "encoding": {"x": {"datum": 5.5, "type": "quantitative"}, "y": {"datum": 26.021, "type": "quantitative"}}},
{"data": {"values": [{}]}, "mark": {"type": "text", "text": "12 min", "align": "left", "baseline": "middle", "color": "#ffffff", "fontSize": 16},
 "encoding": {"x": {"datum": 25, "type": "quantitative"}, "y": {"datum": 26.021, "type": "quantitative"}}},
{"data": {"values": [{}]}, "mark": {"type": "text", "text": "#2 Overlay:", "align": "left", "baseline": "middle", "color": "#ffffff", "fontSize": 16},
 "encoding": {"x": {"datum": 59, "type": "quantitative"}, "y": {"datum": 26.021, "type": "quantitative"}}},
{"data": {"values": [{}]}, "mark": {"type": "text", "text": "Last: 25.79", "align": "left", "baseline": "middle", "color": "#ec7a70", "fontSize": 16},
 "encoding": {"x": {"datum": 106.5, "type": "quantitative"}, "y": {"datum": 26.021, "type": "quantitative"}}},
{"data": {"values": [{}]}, "mark": {"type": "text", "text": "(#2, 1)", "align": "left", "baseline": "middle", "color": "#ffffff", "fontSize": 16},
 "encoding": {"x": {"datum": 154, "type": "quantitative"}, "y": {"datum": 26.021, "type": "quantitative"}}}
]
},
{
"width": 1362, "height": 21,
"layer": [
{"data": {"name": "days"}, "transform": [{"filter": "length(datum.label) == 4"}],
 "mark": {"type": "rect", "color": "#ffffff", "xOffset": -17, "x2Offset": 17, "clip": true},
 "encoding": {"x": {"field": "t", "type": "quantitative", "scale": {"domain": [0, 681], "nice": false, "zero": false}, "axis": null}, "x2": {"field": "t"},
   "y": {"datum": 0, "type": "quantitative", "scale": {"domain": [0, 1], "nice": false, "zero": false}, "axis": null}, "y2": {"datum": 0.86}}},
{"data": {"name": "days"}, "transform": [{"filter": "length(datum.label) == 3"}],
 "mark": {"type": "rect", "color": "#ffffff", "xOffset": -12, "x2Offset": 12, "clip": true},
 "encoding": {"x": {"field": "t", "type": "quantitative", "axis": null}, "x2": {"field": "t"},
   "y": {"datum": 0, "type": "quantitative", "axis": null}, "y2": {"datum": 0.86}}},
{"data": {"name": "days"}, "transform": [{"filter": "length(datum.label) <= 4"}],
 "mark": {"type": "text", "color": "#000000", "font": "Liberation Sans Narrow, DejaVu Sans Condensed, Roboto", "fontSize": 17, "baseline": "middle", "align": "center", "clip": true},
 "encoding": {"x": {"field": "t", "type": "quantitative", "axis": null}, "y": {"datum": 0.48, "type": "quantitative", "axis": null}, "text": {"field": "label"}}},
{"data": {"name": "days"}, "transform": [{"filter": "length(datum.label) == 5"}],
 "mark": {"type": "text", "color": "#f0f0f0", "font": "Liberation Sans Narrow, DejaVu Sans Condensed, Roboto", "fontSize": 17, "baseline": "middle", "align": "center"},
 "encoding": {"x": {"field": "t", "type": "quantitative", "axis": null}, "y": {"datum": 0.48, "type": "quantitative", "axis": null}, "text": {"field": "label"}}},
{"data": {"values": [{}]}, "mark": {"type": "rect", "color": "#22b422", "xOffset": 52, "x2Offset": 68},
 "encoding": {"x": {"datum": 681, "type": "quantitative"}, "x2": {"datum": 681}, "y": {"datum": 0, "type": "quantitative"}, "y2": {"datum": 0.95}}},
{"data": {"values": [{}]}, "mark": {"type": "text", "text": "1", "color": "#ffffff", "font": "Liberation Sans Narrow, DejaVu Sans Condensed, Roboto", "fontSize": 17, "baseline": "middle", "align": "center", "dx": 60},
 "encoding": {"x": {"datum": 681, "type": "quantitative"}, "y": {"datum": 0.48, "type": "quantitative"}}}
]
}
]
}
